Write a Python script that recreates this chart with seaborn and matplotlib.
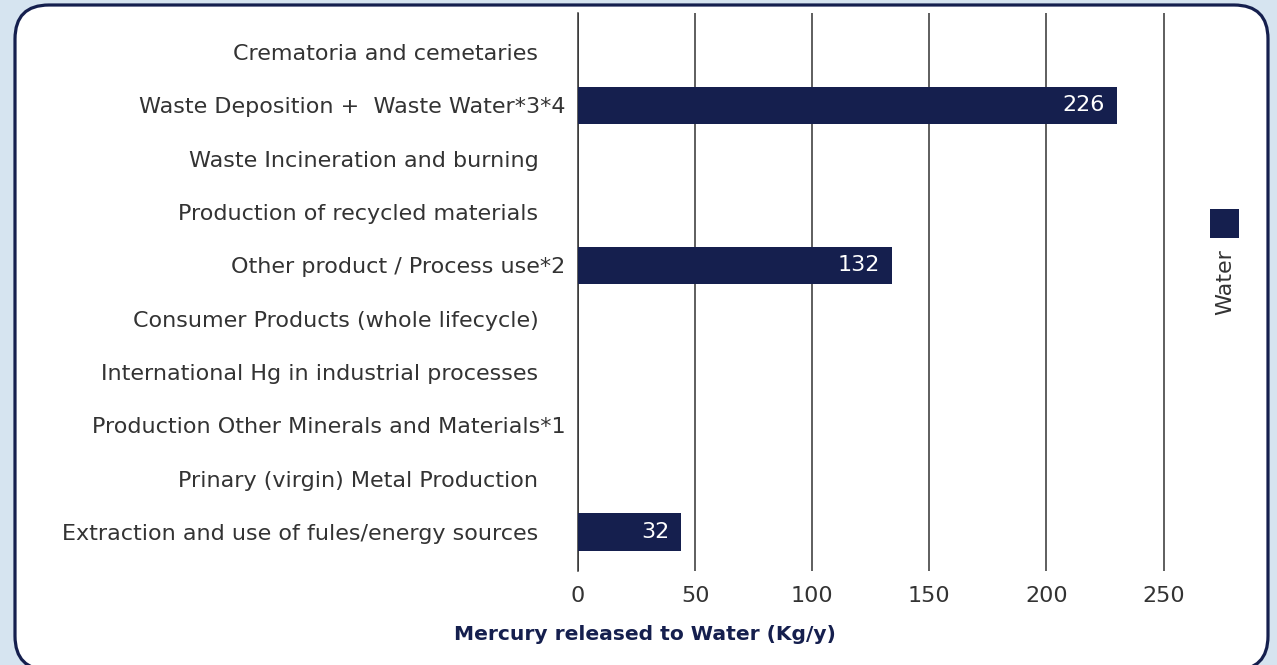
import matplotlib
matplotlib.use("Agg")
import matplotlib.pyplot as plt
import matplotlib.transforms as mtransforms
from matplotlib.patches import FancyBboxPatch, Rectangle
import seaborn as sns
import pandas as pd

categories = [
    "Crematoria and cemetaries",
    "Waste Deposition +  Waste Water*3*4",
    "Waste Incineration and burning",
    "Production of recycled materials",
    "Other product / Process use*2",
    "Consumer Products (whole lifecycle)",
    "International Hg in industrial processes",
    "Production Other Minerals and Materials*1",
    "Prinary (virgin) Metal Production",
    "Extraction and use of fules/energy sources",
]
# bar lengths as drawn against the axis, and the printed labels
bar_values = [0, 230, 0, 0, 134, 0, 0, 0, 0, 44]
value_labels = ["", "226", "", "", "132", "", "", "", "", "32"]
x_ticks = [0, 50, 100, 150, 200, 250]

navy = "#151f4e"
text_gray = "#333333"

df = pd.DataFrame({"source": categories, "water": bar_values})

fig = plt.figure(figsize=(12.77, 6.65), dpi=100, facecolor="#d6e4f0")

# rounded white panel, behind the axes
panel = FancyBboxPatch(
    (0.15, -0.05), 12.53, 6.65,
    boxstyle="round,pad=0,rounding_size=0.34",
    transform=fig.dpi_scale_trans,
    facecolor="white", edgecolor=navy, linewidth=2.3, zorder=-1,
)
fig.patches.append(panel)

ax = fig.add_axes([0.4526, 0.1414, 0.4806, 0.8391])
ax.set_facecolor("none")
sns.barplot(data=df, x="water", y="source", orient="h", color=navy,
            saturation=1, width=0.7, ax=ax, zorder=3)

ax.set_xlim(0, 262)
ax.set_ylim(9.73, -0.73)
ax.set_xticks(x_ticks)
ax.grid(axis="x", color="#333333", linewidth=1.1, zorder=0)
ax.set_axisbelow(True)
# zero line would be half clipped by the axes edge
ax.axvline(0, color="#333333", linewidth=1.1, clip_on=False, zorder=1)
for s in ax.spines.values():
    s.set_visible(False)
ax.tick_params(axis="both", length=0, labelsize=16, labelcolor=text_gray)
ax.tick_params(axis="x", pad=11)
ax.tick_params(axis="y", pad=9)
ax.set_xlabel("")
ax.set_ylabel("")

# labels without footnote marks sit further left
shift = mtransforms.ScaledTranslation(-0.27, 0, fig.dpi_scale_trans)
for lab in ax.get_yticklabels():
    if "*" not in lab.get_text():
        lab.set_transform(lab.get_transform() + shift)

label_shift = mtransforms.ScaledTranslation(-0.12, 0, fig.dpi_scale_trans)
for i, (v, t) in enumerate(zip(bar_values, value_labels)):
    if t:
        ax.text(v, i, t, ha="right", va="center", color="white",
                fontsize=16, zorder=4, transform=ax.transData + label_shift)

fig.text(645 / 1277, 1 - 635 / 665, "Mercury released to Water (Kg/y)",
         ha="center", va="center", fontsize=14.6, fontweight="bold", color=navy)

# legend
fig.patches.append(Rectangle((1210 / 1277, 1 - 238 / 665), 29 / 1277, 29 / 665,
                             transform=fig.transFigure, facecolor=navy, edgecolor="none"))
fig.text(1225 / 1277, 1 - 282 / 665, "Water", rotation=90, ha="center", va="center",
         fontsize=16, color=text_gray)

fig.savefig("out.png", dpi=100, facecolor=fig.get_facecolor())
